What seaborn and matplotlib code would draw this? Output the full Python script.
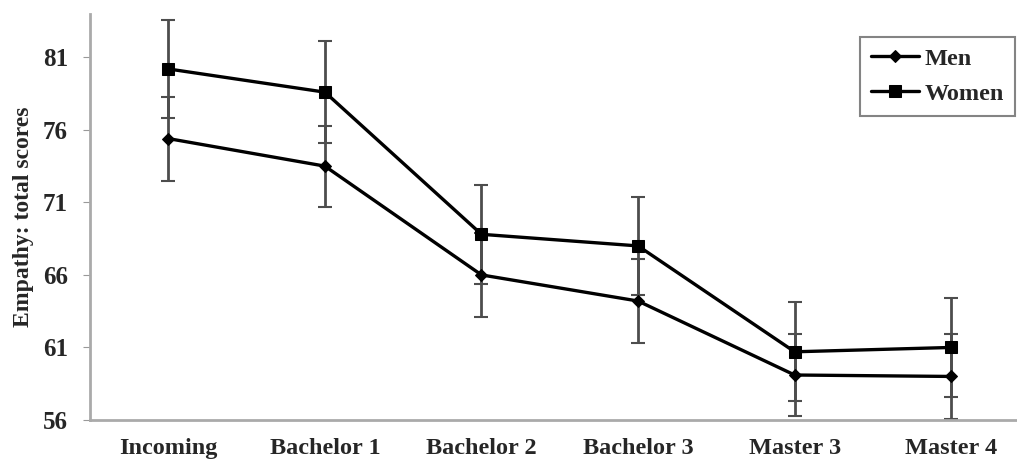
import numpy as np
import pandas as pd
import matplotlib
matplotlib.use("Agg")
import matplotlib.pyplot as plt
import seaborn as sns

# Chart data
stages = ["Incoming", "Bachelor 1", "Bachelor 2", "Bachelor 3", "Master 3", "Master 4"]
men = [75.4, 73.5, 66.0, 64.2, 59.1, 59.0]
men_err = [2.9, 2.8, 2.9, 2.9, 2.8, 2.9]
women = [80.2, 78.6, 68.8, 68.0, 60.7, 61.0]
women_err = [3.4, 3.5, 3.4, 3.4, 3.4, 3.4]
yticks = [56, 61, 66, 71, 76, 81]

sns.set_style("white")
plt.rcParams["font.family"] = ["Liberation Serif", "DejaVu Serif"]
plt.rcParams["font.weight"] = "bold"

df = pd.DataFrame({
    "pos": list(range(len(stages))) * 2,
    "score": men + women,
    "err": men_err + women_err,
    "group": ["Men"] * len(stages) + ["Women"] * len(stages),
})

fig = plt.figure(figsize=(10.17, 4.61), dpi=100)
ax = fig.add_axes([0.0885, 0.089, 0.9115, 0.881])

# Error bars first, so the lines sit on top
for name, sub in df.groupby("group"):
    ax.errorbar(sub["pos"], sub["score"], yerr=sub["err"], fmt="none",
                ecolor="#4d4d4d", elinewidth=2, capsize=5, capthick=1.5, zorder=1)

sns.lineplot(data=df, x="pos", y="score", hue="group", style="group",
             markers={"Men": "D", "Women": "s"}, dashes=False,
             palette={"Men": "black", "Women": "black"},
             linewidth=2.4, markersize=8.5, markeredgecolor="black", ax=ax, zorder=3)
# diamond a bit smaller than the square
for line in ax.get_lines():
    if line.get_marker() == "D":
        line.set_markersize(6.5)

ax.set_xlim(-0.5, 5.42)
ax.set_ylim(56, 84)
ax.set_yticks(yticks)
ax.set_yticklabels([str(v) for v in yticks], fontsize=18, fontweight="bold")
ax.set_xticks(range(len(stages)))
ax.set_xticklabels(stages, fontsize=17.5, fontweight="bold")
ax.set_xticks(np.arange(0.5, len(stages) - 1, 1), minor=True)
ax.tick_params(axis="x", which="major", length=0, pad=13)
ax.tick_params(axis="x", which="minor", length=3, color="#999999", direction="out")
ax.tick_params(axis="y", length=5, color="#999999", direction="out", pad=11, left=True)
ax.set_xlabel("")
ax.set_ylabel("Empathy: total scores", fontsize=17, fontweight="bold", labelpad=6)

for side in ["top", "right"]:
    ax.spines[side].set_visible(False)
for side in ["left", "bottom"]:
    ax.spines[side].set_color("#aaaaaa")
    ax.spines[side].set_linewidth(2)

leg = ax.legend(loc="upper right", bbox_to_anchor=(1.0, 0.95), fontsize=17.5,
                frameon=True, fancybox=False, handlelength=2.0,
                borderpad=0.45, labelspacing=0.55, handletextpad=0.2,
                borderaxespad=0.1)
leg.get_frame().set_edgecolor("#666666")
leg.get_frame().set_linewidth(1.5)
for t in leg.get_texts():
    t.set_fontweight("bold")

fig.savefig("out.png", dpi=100)
